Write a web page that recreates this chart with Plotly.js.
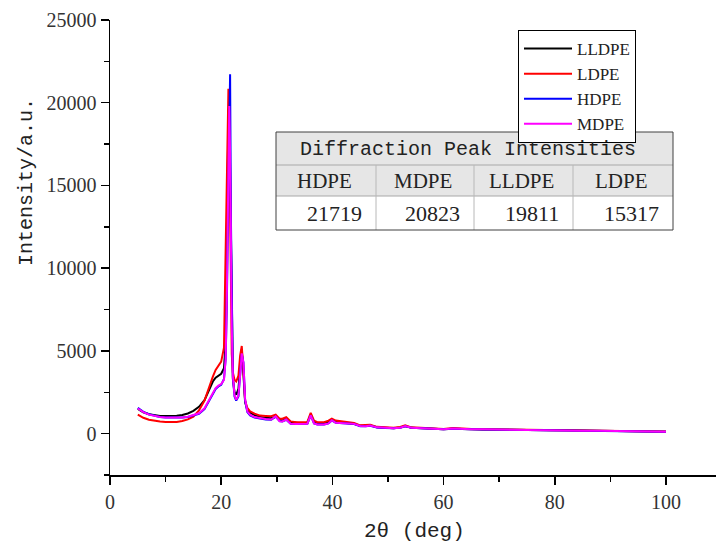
<!DOCTYPE html>
<html>
<head>
<meta charset="utf-8">
<script src="https://cdn.plot.ly/plotly-3.0.1.min.js"></script>
<style>html,body{margin:0;padding:0;background:#fff;}#chart{width:716px;height:545px;}</style>
</head>
<body>
<div id="chart"></div>
<script>
// 2-theta grid (deg)
var twoTheta = [5,6,7,8,9,10,11,12,13,14,15,16,17,18,
  18.5,19,19.5,20,
  20.5,20.8,21,21.15,21.3,21.45,21.6,21.75,21.9,
  22.1,22.4,22.7,
  23.1,23.4,23.7,24,24.3,24.7,25.2,
  26,27,28,29,
  29.8,30.5,31,31.7,32.5,33.5,34.5,35.5,
  36.1,36.7,37.3,38.5,39.3,39.9,40.6,
  41.5,42.5,43.3,43.9,45,46,46.8,48,49.5,51,
  52.2,53.1,54.2,56,58,60,
  61.7,63,65,67,70,73,76,79,82,85,88,91,94,97,100];

var lldpe = [1500,1290,1170,1100,1070,1060,1060,1080,1130,1220,1380,1620,2020,2750,
  3150,3380,3500,3620,
  3950,5500,10000,15500,19500,19811,15500,9500,5500,
  3300,2500,2350,
  2700,4200,5100,3600,1900,1450,1250,
  1120,1000,960,930,
  1020,830,800,880,700,640,620,640,
  1150,700,600,600,690,840,700,
  680,660,650,600,470,460,500,390,360,330,
  370,460,360,320,280,260,
  300,270,260,250,230,220,220,210,200,180,170,160,150,140,120];

var ldpe = [1150,960,840,770,730,700,700,710,760,860,1030,1400,2000,3000,
  3450,3850,4100,4350,
  5200,11500,16500,19500,20850,18000,12500,7500,4800,
  3700,3250,3150,
  3500,4700,5300,3800,2000,1550,1350,
  1210,1090,1070,1050,
  1150,900,900,990,740,690,690,710,
  1250,780,690,690,780,900,790,
  750,710,700,640,500,500,540,410,380,360,
  400,500,380,340,290,280,
  340,300,280,270,250,240,240,230,210,190,180,170,160,150,130];

var hdpe = [1560,1320,1170,1070,1000,970,960,960,970,1010,1090,1200,1480,2050,
  2420,2700,2850,2950,
  3300,4500,7500,11500,16000,20000,21719,13000,6500,
  3400,2250,2000,
  2250,3400,4800,4300,2000,1300,1100,
  980,900,860,840,
  1030,760,740,840,600,580,570,590,
  1100,620,550,550,620,800,660,
  650,640,630,580,450,440,480,370,340,320,
  360,450,350,310,270,260,
  300,270,260,250,230,220,220,210,190,180,170,160,150,140,120];

var mdpe = [1520,1300,1150,1060,1000,970,960,960,980,1020,1110,1230,1530,2120,
  2500,2750,2900,3000,
  3250,4500,8000,13000,17500,19800,17000,11000,6500,
  3500,2300,2050,
  2300,3500,4850,4300,2100,1350,1150,
  1000,920,880,850,
  1050,750,740,850,590,580,570,600,
  1110,620,550,550,620,810,660,
  650,640,630,590,460,450,490,380,350,330,
  360,460,360,320,280,270,
  310,280,270,260,240,230,230,220,200,180,170,160,150,140,120];

var seriesNames = ['LLDPE','LDPE','HDPE','MDPE'];
var seriesColors = ['#000000','#ff0000','#0000ff','#ff00ff'];
var seriesValues = [lldpe, ldpe, hdpe, mdpe];

var tableTitle = 'Diffraction Peak Intensities';
var tableHeaders = ['HDPE','MDPE','LLDPE','LDPE'];
var tableValues = [21719, 20823, 19811, 15317];

var xTitle = '2θ (deg)';
var yTitle = 'Intensity/a.u.';

// layout helpers (pixel -> paper)
var L = 110, T = 20, W = 606, H = 455;
function px(x){ return (x - L) / W; }
function py(y){ return (T + H - y) / H; }

var traces = seriesNames.map(function(n, i){
  return {x: twoTheta, y: seriesValues[i], name: n, type: 'scatter', mode: 'lines',
    line: {color: seriesColors[i], width: 2}};
});

var serif = 'Liberation Serif, Times New Roman, serif';
var mono = 'Liberation Mono, Courier New, monospace';

var shapes = [];
var annotations = [];
var tL = 276, tR = 673, tTop = 132, r1 = 165, r2 = 196, tBot = 230;
var colX = [276, 376, 474, 573, 673];
shapes.push({type:'rect', xref:'paper', yref:'paper', x0:px(tL), x1:px(tR), y0:py(r2), y1:py(tTop),
  fillcolor:'#e6e6e6', line:{width:0}, layer:'above'});
shapes.push({type:'rect', xref:'paper', yref:'paper', x0:px(tL), x1:px(tR), y0:py(tBot), y1:py(r2),
  fillcolor:'#ffffff', line:{width:0}, layer:'above'});
[r1, r2].forEach(function(y){
  shapes.push({type:'line', xref:'paper', yref:'paper', x0:px(tL), x1:px(tR), y0:py(y), y1:py(y),
    line:{color:'#a8a8a8', width:1}, layer:'above'});
});
for (var c = 1; c < 4; c++){
  shapes.push({type:'line', xref:'paper', yref:'paper', x0:px(colX[c]), x1:px(colX[c]), y0:py(tBot), y1:py(r1),
    line:{color:'#b8b8b8', width:1}, layer:'above'});
}
shapes.push({type:'rect', xref:'paper', yref:'paper', x0:px(tL), x1:px(tR), y0:py(tBot), y1:py(tTop),
  fillcolor:'rgba(0,0,0,0)', line:{color:'#404040', width:1}, layer:'above'});

annotations.push({xref:'paper', yref:'paper', x:px(468), y:py(149), text:tableTitle, showarrow:false,
  xanchor:'center', yanchor:'middle', font:{family:mono, size:20, color:'#222'}});
tableHeaders.forEach(function(h, i){
  annotations.push({xref:'paper', yref:'paper', x:px((colX[i]+colX[i+1])/2 - 2), y:py(181), text:h, showarrow:false,
    xanchor:'center', yanchor:'middle', font:{family:serif, size:21, color:'#222'}});
  annotations.push({xref:'paper', yref:'paper', x:px(colX[i+1]-12), y:py(213), text:String(tableValues[i]), showarrow:false,
    xanchor:'right', yanchor:'middle', font:{family:serif, size:22, color:'#222'}});
});
annotations.push({xref:'paper', yref:'paper', x:px(27), y:py(182), text:yTitle, showarrow:false, textangle:-90,
  xanchor:'center', yanchor:'middle', font:{family:mono, size:20, color:'#222'}});
annotations.push({xref:'paper', yref:'paper', x:px(414), y:py(531), text:xTitle, showarrow:false,
  xanchor:'center', yanchor:'middle', font:{family:mono, size:21, color:'#222'}});

var layout = {
  width: 716, height: 545,
  margin: {l: L, r: 0, t: T, b: 70},
  paper_bgcolor: '#fff', plot_bgcolor: '#fff',
  showlegend: true,
  legend: {x: px(518), y: py(30), xanchor: 'left', yanchor: 'top',
    bordercolor: '#000', borderwidth: 1, bgcolor: '#fff', itemwidth: 48,
    font: {family: serif, size: 17, color: '#222'}, tracegroupgap: 0},
  xaxis: {range: [0, 109], tick0: 0, dtick: 20, showgrid: false, zeroline: false,
    showline: true, linecolor: '#000', linewidth: 1.5, ticks: 'outside', ticklen: 8, tickwidth: 1.5, tickcolor: '#000',
    minor: {dtick: 10, ticks: 'outside', ticklen: 5, tickwidth: 1.5, tickcolor: '#000', showgrid: false},
    tickfont: {family: serif, size: 20, color: '#333'}},
  yaxis: {range: [-2500, 25000], tick0: 0, dtick: 5000, tickformat: 'd', showgrid: false, zeroline: false,
    showline: true, linecolor: '#000', linewidth: 1.5, ticks: 'outside', ticklen: 8, tickwidth: 1.5, tickcolor: '#000',
    minor: {dtick: 2500, ticks: 'outside', ticklen: 5, tickwidth: 1.5, tickcolor: '#000', showgrid: false},
    tickfont: {family: serif, size: 20, color: '#333'}},
  shapes: shapes,
  annotations: annotations
};

Plotly.newPlot('chart', traces, layout, {displayModeBar: false, staticPlot: true});
</script>
</body>
</html>
